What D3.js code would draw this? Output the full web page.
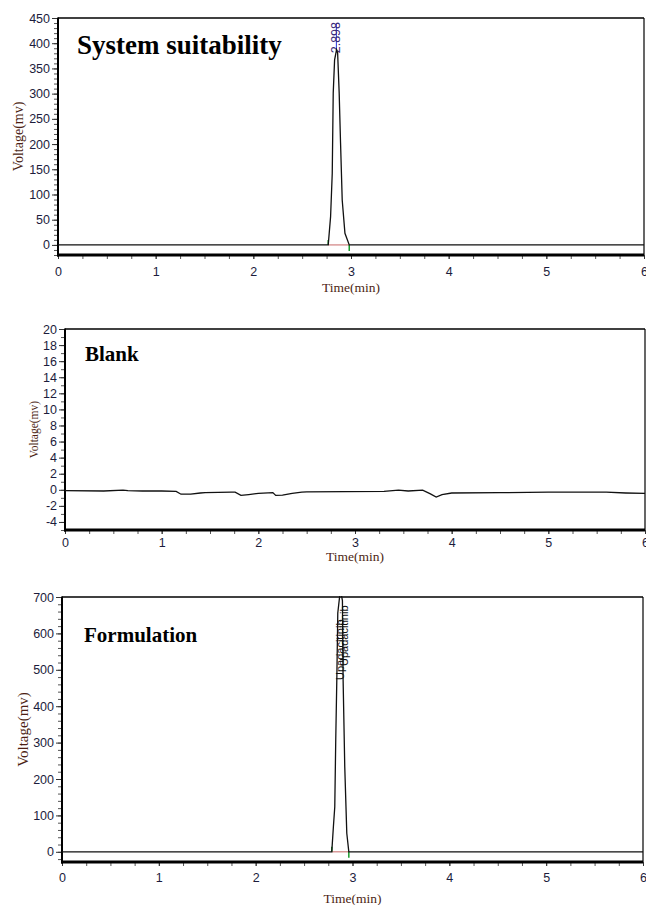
<!DOCTYPE html>
<html>
<head>
<meta charset="utf-8">
<script src="https://cdn.jsdelivr.net/npm/d3@7"></script>
<style>
  html, body { margin: 0; padding: 0; background: #fff; }
  svg { display: block; }
</style>
</head>
<body>
<div id="chart"></div>
<script>
// chromatograms: system suitability / blank / formulation

var panelTitles = ['System suitability', 'Blank', 'Formulation'];

// [time (min), voltage (mv)]
var suitabilityTrace = [
  [0, 0], [2.767, 0], [2.791, 56], [2.808, 142], [2.818, 301], [2.832, 367],
  [2.852, 387], [2.863, 381], [2.879, 301], [2.893, 202], [2.910, 89],
  [2.938, 23], [2.982, 0], [6, 0]
];
var blankTrace = [
  [0, -0.1], [0.4, -0.15], [0.6, -0.05], [0.65, -0.1], [0.8, -0.15], [1.0, -0.15],
  [1.15, -0.2], [1.2, -0.55], [1.3, -0.55], [1.4, -0.4], [1.45, -0.35], [1.72, -0.3],
  [1.76, -0.3], [1.82, -0.7], [1.9, -0.6], [2.0, -0.45], [2.15, -0.35], [2.18, -0.7],
  [2.25, -0.65], [2.35, -0.45], [2.45, -0.3], [2.5, -0.25], [3.3, -0.2], [3.45, -0.05],
  [3.55, -0.15], [3.7, -0.05], [3.78, -0.5], [3.84, -0.9], [3.9, -0.6], [4.0, -0.4],
  [4.5, -0.35], [5.0, -0.3], [5.6, -0.3], [5.8, -0.4], [6.0, -0.45]
];
var formulationTrace = [
  [0, 0], [2.786, 0], [2.803, 70], [2.817, 124], [2.827, 308], [2.838, 473],
  [2.848, 656], [2.875, 720], [2.896, 690], [2.903, 473], [2.920, 234],
  [2.941, 51], [2.962, 0], [6, 0]
];

// integration marks: [start, end] of each detected peak
var suitabilityPeaks = [[2.767, 2.982]];
var formulationPeaks = [[2.786, 2.962]];

// peak labels: [time, text]
var suitabilityLabels = [[2.84, '2.898']];
var formulationLabels = [[2.86, 'Upadacitinib'], [2.90, 'Upadacitinib']];

var yDomains = [[-20, 450], [-5, 20], [-28, 700]];
var yMajorTicks = [
  [0, 50, 100, 150, 200, 250, 300, 350, 400, 450],
  [-4, -2, 0, 2, 4, 6, 8, 10, 12, 14, 16, 18, 20],
  [0, 100, 200, 300, 400, 500, 600, 700]
];
var yMinorStep = [10, 1, 20];
var xMajorTicks = [0, 1, 2, 3, 4, 5, 6];

var W = 646, H = 905;
var TICK_COLOR = '#1c1c3c';
var LABEL_COLOR = '#4d1f14';

var panels = [
  { trace: suitabilityTrace, peaks: suitabilityPeaks, labels: suitabilityLabels,
    x0: 58, x1: 644, top: 18, bottom: 255, xPad: 8,
    titleX: 77, titleY: 54, titleSize: 27,
    yLabelX: 18, yLabelSize: 14, xLabelY: 292, labelColor: '#3a2a78' },
  { trace: blankTrace, peaks: [], labels: [],
    x0: 65, x1: 645, top: 329, bottom: 530, xPad: 4,
    titleX: 85, titleY: 361, titleSize: 21,
    yLabelX: 34, yLabelSize: 11.5, xLabelY: 561, labelColor: '#000' },
  { trace: formulationTrace, peaks: formulationPeaks, labels: formulationLabels,
    x0: 62, x1: 643, top: 597, bottom: 862, xPad: 7,
    titleX: 84, titleY: 642, titleSize: 21,
    yLabelX: 23, yLabelSize: 15, xLabelY: 903, labelColor: '#111' }
];

var svg = d3.select('#chart').append('svg')
  .attr('width', W)
  .attr('height', H)
  .attr('viewBox', '0 0 ' + W + ' ' + H);

svg.append('rect').attr('width', W).attr('height', H).attr('fill', '#fff');

function styleTicks(s) {
  s.select('.domain').remove();
  s.selectAll('line').attr('stroke', '#333');
  s.selectAll('text')
    .attr('fill', TICK_COLOR)
    .style('font-family', 'Arial, "Liberation Sans", sans-serif')
    .style('font-size', '12.5px');
}

panels.forEach(function(p, i) {
  var x = d3.scaleLinear().domain([0, 6]).range([p.x0, p.x1]);
  var y = d3.scaleLinear().domain(yDomains[i]).range([p.bottom, p.top]);
  var g = svg.append('g');

  var clipId = 'clip' + i;
  svg.append('clipPath').attr('id', clipId)
    .append('rect')
    .attr('x', p.x0).attr('y', p.top - 1)
    .attr('width', p.x1 - p.x0).attr('height', p.bottom - p.top + 1);

  // minor ticks, y
  var minorY = d3.range(Math.ceil(yDomains[i][0] / yMinorStep[i]) * yMinorStep[i],
                        yDomains[i][1] + 0.001, yMinorStep[i]);
  g.append('g')
    .attr('transform', 'translate(' + p.x0 + ',0)')
    .call(d3.axisLeft(y).tickValues(minorY).tickSize(4).tickFormat(''))
    .call(function(s) { s.select('.domain').remove(); s.selectAll('line').attr('stroke', '#555'); });

  // major ticks, y
  g.append('g')
    .attr('transform', 'translate(' + p.x0 + ',0)')
    .call(d3.axisLeft(y).tickValues(yMajorTicks[i]).tickSize(6).tickPadding(2)
      .tickFormat(function(d) { return String(d); }))
    .call(styleTicks);

  // x ticks (minor every 0.25)
  g.append('g')
    .attr('transform', 'translate(0,' + p.bottom + ')')
    .call(d3.axisBottom(x).tickValues(d3.range(0, 6.01, 0.25)).tickSize(4).tickFormat(''))
    .call(function(s) { s.select('.domain').remove(); s.selectAll('line').attr('stroke', '#555'); });
  g.append('g')
    .attr('transform', 'translate(0,' + p.bottom + ')')
    .call(d3.axisBottom(x).tickValues(xMajorTicks).tickSize(4).tickPadding(p.xPad)
      .tickFormat(function(d) { return String(d); }))
    .call(styleTicks);

  // frame: thin top/right, heavier left, heavy bottom
  g.append('line').attr('x1', p.x0).attr('x2', p.x1).attr('y1', p.top).attr('y2', p.top)
    .attr('stroke', '#000').attr('stroke-width', 1.5);
  g.append('line').attr('x1', p.x1).attr('x2', p.x1).attr('y1', p.top).attr('y2', p.bottom)
    .attr('stroke', '#000').attr('stroke-width', 1.2);
  g.append('line').attr('x1', p.x0).attr('x2', p.x0).attr('y1', p.top - 0.5).attr('y2', p.bottom + 1.5)
    .attr('stroke', '#000').attr('stroke-width', 2);
  g.append('line').attr('x1', p.x0 - 1).attr('x2', p.x1).attr('y1', p.bottom).attr('y2', p.bottom)
    .attr('stroke', '#000').attr('stroke-width', 3);

  // integration baseline + start/end marks
  p.peaks.forEach(function(pk) {
    g.append('line')
      .attr('x1', x(pk[0])).attr('x2', x(pk[1]))
      .attr('y1', y(0)).attr('y2', y(0))
      .attr('stroke', '#d08080').attr('stroke-width', 1.2);
    g.append('line')
      .attr('x1', x(pk[0])).attr('x2', x(pk[0]))
      .attr('y1', y(0) - 5).attr('y2', y(0))
      .attr('stroke', '#1a9a2a').attr('stroke-width', 1.5);
    g.append('line')
      .attr('x1', x(pk[1])).attr('x2', x(pk[1]))
      .attr('y1', y(0)).attr('y2', y(0) + 6)
      .attr('stroke', '#1a9a2a').attr('stroke-width', 1.5);
  });

  var plot = g.append('g').attr('clip-path', 'url(#' + clipId + ')');

  // peak labels (rotated, reading upward)
  p.labels.forEach(function(lb, k) {
    var lx = x(lb[0]);
    if (i === 0) {
      plot.append('line')
        .attr('x1', lx + 1).attr('x2', lx + 1)
        .attr('y1', y(387)).attr('y2', p.top + 6)
        .attr('stroke', '#2233dd').attr('stroke-width', 1);
    }
    var ly = i === 0 ? y(380) : p.top + 83 - k * 14;
    plot.append('text')
      .attr('transform', 'translate(' + (lx + 5) + ',' + ly + ') rotate(-90)')
      .attr('fill', p.labelColor)
      .style('font-family', 'Arial, "Liberation Sans", sans-serif')
      .style('font-size', i === 0 ? '12.5px' : '11px')
      .text(lb[1]);
  });

  // trace
  var line = d3.line()
    .x(function(d) { return x(d[0]); })
    .y(function(d) { return y(d[1]); });
  plot.append('path')
    .datum(p.trace)
    .attr('d', line)
    .attr('fill', 'none')
    .attr('stroke', '#111')
    .attr('stroke-width', 1.3);

  // panel title
  g.append('text')
    .attr('x', p.titleX).attr('y', p.titleY)
    .style('font-family', '"Times New Roman", "Liberation Serif", serif')
    .style('font-weight', 'bold')
    .style('font-size', p.titleSize + 'px')
    .attr('fill', '#000')
    .text(panelTitles[i]);

  // axis titles
  g.append('text')
    .attr('transform', 'translate(' + p.yLabelX + ',' + ((p.top + p.bottom) / 2) + ') rotate(-90)')
    .attr('text-anchor', 'middle')
    .attr('dy', '0.35em')
    .style('font-family', '"Times New Roman", "Liberation Serif", serif')
    .style('font-size', p.yLabelSize + 'px')
    .attr('fill', LABEL_COLOR)
    .text('Voltage(mv)');
  g.append('text')
    .attr('x', x(3)).attr('y', p.xLabelY)
    .attr('text-anchor', 'middle')
    .style('font-family', '"Times New Roman", "Liberation Serif", serif')
    .style('font-size', '13.5px')
    .attr('fill', LABEL_COLOR)
    .text('Time(min)');
});
</script>
</body>
</html>
